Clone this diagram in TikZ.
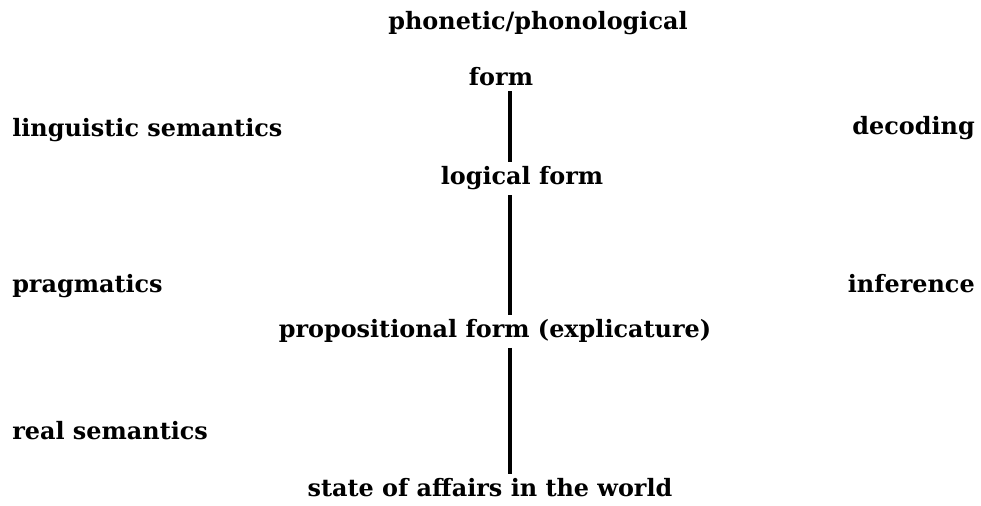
\documentclass[tikz,border=0pt]{standalone}
\usepackage{fontspec}
\setmainfont{DejaVu Serif}
\usepackage{tikz}
\usetikzlibrary{positioning}

\begin{document}
\begin{tikzpicture}[lbl/.style={font=\fontsize{17}{20}\selectfont\bfseries, anchor=base},
        side/.style={font=\fontsize{17}{20}\selectfont\bfseries, inner sep=0pt},
        link/.style={line width=2.4pt}]
        \useasboundingbox (0,0) rectangle (24.525,12.65);

        % levels of representation
        \coordinate (axis) at (12.75,0);
        \node[lbl] (phon) at (13.45,11.9) {phonetic/phonological};
        \node[lbl] (form) at (12.525,10.5) {form};
        \node[lbl] (logical) at (13.05,8.025) {logical form};
        \node[lbl] (prop) at (12.375,4.2) {propositional form (explicature)};
        \node[lbl] (state) at (12.25,0.225) {state of affairs in the world};

        \draw[link] (form.south -| axis) -- (logical.north -| axis);
        \draw[link] (logical.south -| axis) -- (prop.north -| axis);
        \draw[link] (prop.south -| axis) -- (state.north -| axis);

        % disciplines and processes
        \node[side, anchor=base west] (ling) at (0.3,9.225) {linguistic semantics};
        \node[side, anchor=base west] (prag) at (0.3,5.325) {pragmatics};
        \node[side, anchor=base west] (real) at (0.3,1.65) {real semantics};
        \node[side, anchor=base east] (decoding) at (24.375,9.275) {decoding};
        \node[side, anchor=base east] (inference) at (24.375,5.325) {inference};
      \end{tikzpicture}
\end{document}
